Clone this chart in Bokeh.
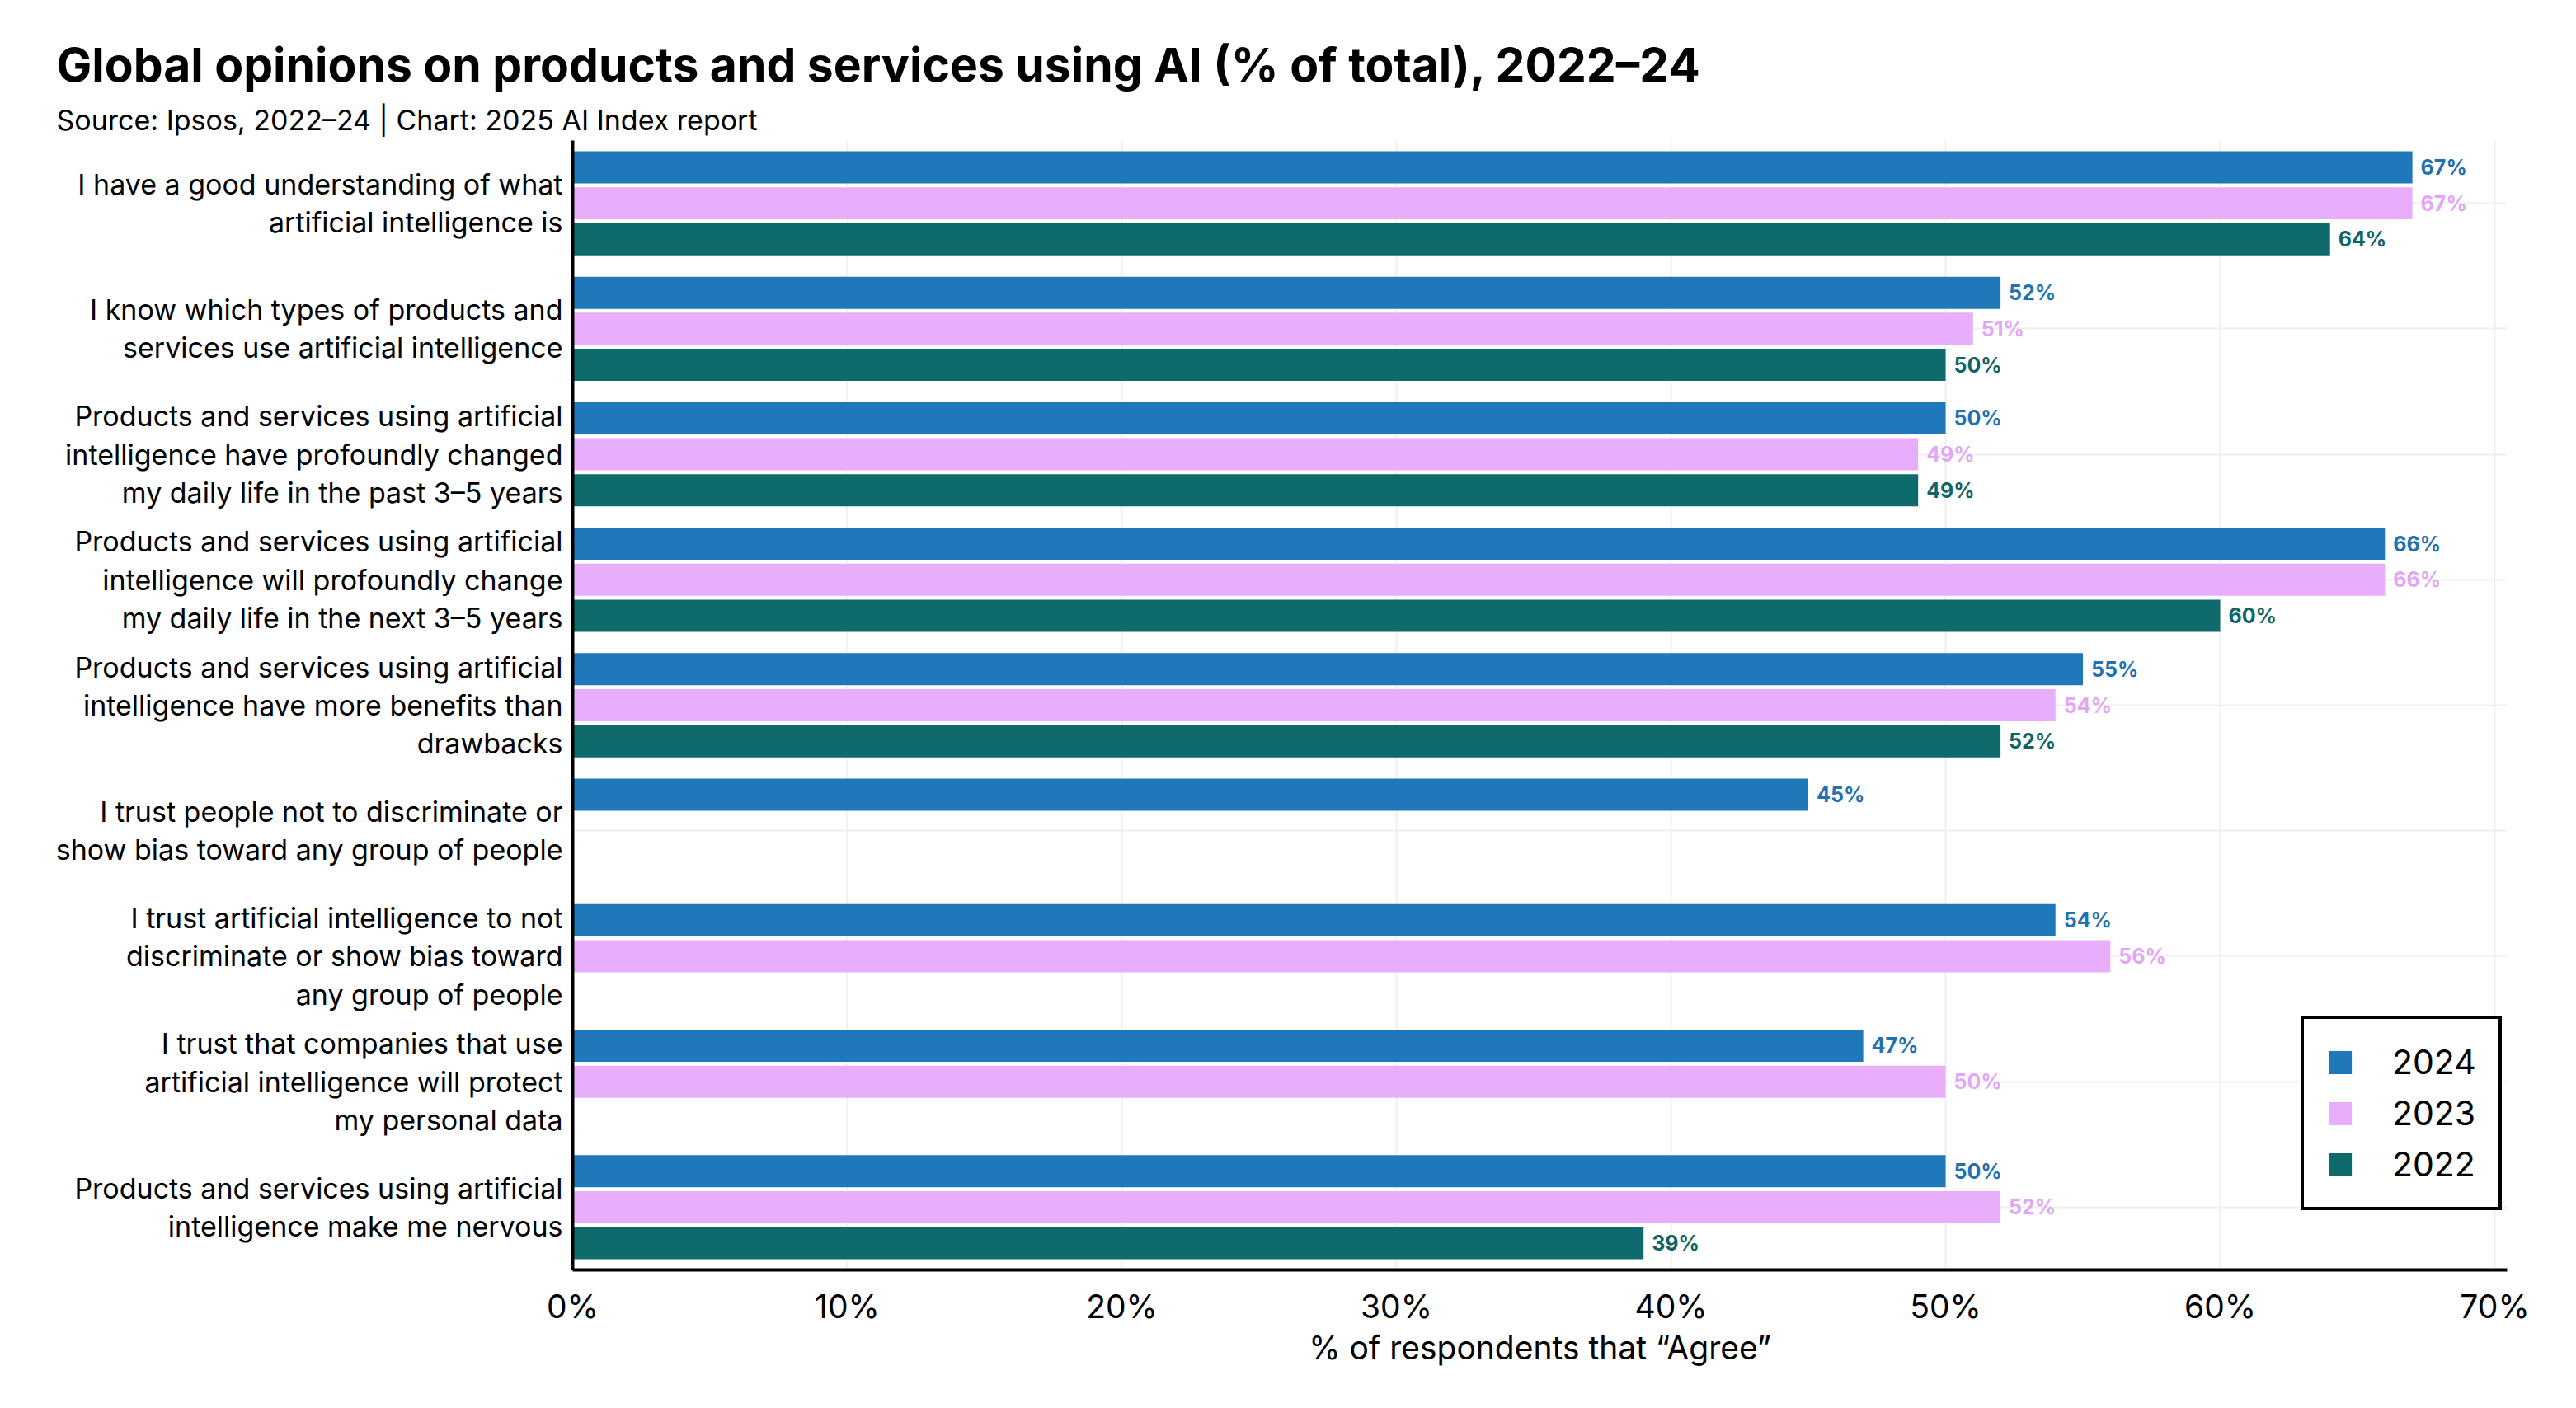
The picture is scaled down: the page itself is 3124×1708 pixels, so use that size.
from bokeh.plotting import figure
from bokeh.models import (ColumnDataSource, FactorRange, Range1d, FixedTicker,
                          PrintfTickFormatter, Title, Legend, LegendItem)
from bokeh.transform import dodge
from bokeh.core.properties import value
from bokeh.embed import file_html
from bokeh.resources import INLINE

categories = [
    "I have a good understanding of what\nartificial intelligence is",
    "I know which types of products and\nservices use artificial intelligence",
    "Products and services using artificial\nintelligence have profoundly changed\nmy daily life in the past 3–5 years",
    "Products and services using artificial\nintelligence will profoundly change\nmy daily life in the next 3–5 years",
    "Products and services using artificial\nintelligence have more benefits than\ndrawbacks",
    "I trust people not to discriminate or\nshow bias toward any group of people",
    "I trust artificial intelligence to not\ndiscriminate or show bias toward\nany group of people",
    "I trust that companies that use\nartificial intelligence will protect\nmy personal data",
    "Products and services using artificial\nintelligence make me nervous",
]
years = ["2024", "2023", "2022"]
values_2024 = [67, 52, 50, 66, 55, 45, 54, 47, 50]
values_2023 = [67, 51, 49, 66, 54, None, 56, 50, 52]
values_2022 = [64, 50, 49, 60, 52, None, None, None, 39]
x_ticks = [0, 10, 20, 30, 40, 50, 60, 70]

colors = {"2024": "#1E78BA", "2023": "#E8AEFB", "2022": "#0F6B6B"}
label_colors = {"2024": "#1F72AF", "2023": "#E3A6F7", "2022": "#0F6466"}
offsets = {"2024": 0.287, "2023": 0.0, "2022": -0.287}
series = {"2024": values_2024, "2023": values_2023, "2022": values_2022}

FONT = "Inter"

p = figure(width=3108, height=1692, output_backend="svg", toolbar_location=None,
           y_range=FactorRange(*reversed(categories)),
           x_range=Range1d(0, 70.45),
           min_border_left=694, min_border_right=68, min_border_top=170,
           min_border_bottom=152, outline_line_color=None,
           background_fill_color="white", border_fill_color="white")

p.y_range.range_padding = 0

legend_items = []
for yr in years:
    cats = [c for c, v in zip(categories, series[yr]) if v is not None]
    vals = [v for v in series[yr] if v is not None]
    src = ColumnDataSource(dict(cat=cats, val=vals, lab=[f"{v}%" for v in vals]))
    r = p.hbar(y=dodge("cat", offsets[yr], range=p.y_range), right="val", left=0,
               height=0.256, source=src, fill_color=colors[yr], line_color=None)
    p.text(x="val", y=dodge("cat", offsets[yr], range=p.y_range), text="lab",
           source=src, x_offset=10, text_align="left", text_baseline="middle",
           text_color=label_colors[yr], text_font=value(FONT), text_font_size="25px",
           text_font_style="bold")
    legend_items.append(LegendItem(label=yr, renderers=[r]))

legend = Legend(items=legend_items, location=(2096, 72), margin=0,
                padding=27, spacing=12, glyph_width=34, glyph_height=35,
                label_height=35, label_standoff=46,
                label_text_font=FONT, label_text_font_size="41px",
                label_text_color="black",
                border_line_color="black", border_line_width=4, border_line_alpha=1,
                background_fill_color="white", background_fill_alpha=1)
p.add_layout(legend, "center")

# axes
p.xaxis.ticker = FixedTicker(ticks=x_ticks)
p.xaxis.formatter = PrintfTickFormatter(format="%d%%")
p.xaxis.axis_label = "% of respondents that “Agree”"
p.xaxis.axis_label_text_font = FONT
p.xaxis.axis_label_text_font_size = "39px"
p.xaxis.axis_label_text_font_style = "normal"
p.xaxis.axis_label_text_color = "black"
p.xaxis.axis_label_standoff = 0
p.xaxis.major_label_text_font = FONT
p.xaxis.major_label_text_font_size = "39px"
p.xaxis.major_label_text_color = "black"
p.xaxis.major_label_standoff = 14
for ax in (p.xaxis, p.yaxis):
    ax.axis_line_color = "black"
    ax.axis_line_width = 4
    ax.major_tick_line_color = None
    ax.minor_tick_line_color = None

p.yaxis.major_label_text_font = FONT
p.yaxis.major_label_text_font_size = "34px"
p.yaxis.major_label_text_color = "black"
p.yaxis.major_label_text_line_height = 1.13
p.yaxis.major_label_standoff = 6

p.xgrid.grid_line_color = "#EFEFEF"
p.xgrid.grid_line_width = 2
p.ygrid.grid_line_color = "#EFEFEF"
p.ygrid.grid_line_width = 2

subtitle = Title(text="Source: Ipsos, 2022–24 | Chart: 2025 AI Index report",
                 text_font=FONT, text_font_size="34px", text_font_style="normal",
                 text_color="black", align="left", offset=-626)
p.add_layout(subtitle, "above")
main_title = Title(text="Global opinions on products and services using AI (% of total), 2022–24",
                   text_font=FONT, text_font_size="57px", text_font_style="bold",
                   text_color="black", align="left", offset=-626)
p.add_layout(main_title, "above")

open("out.html", "w").write(file_html(p, INLINE))
